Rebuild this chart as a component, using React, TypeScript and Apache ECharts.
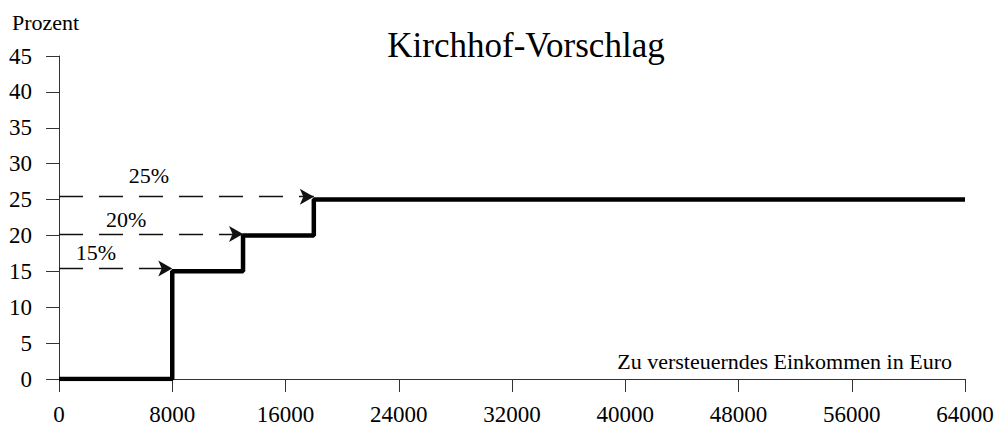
import React, { useEffect, useRef } from "react";
import * as echarts from "echarts";

// Step thresholds (Euro) and tax rates (%)
const incomeBreaks = [0, 8000, 13000, 18000, 64000];
const taxRates = [0, 15, 20, 25, 25];

// Dashed arrow guides: level (%) as drawn and the income where the arrow ends
const arrowLevels = [15.4, 20.2, 25.4];
const arrowEnds = [8000, 13000, 18000];

// Percent labels: text, position (income, %)
const rateLabels = ["15%", "20%", "25%"];
const rateLabelX = [2600, 4750, 6350];
const rateLabelY = [17.6, 22.2, 28.3];

const xTicks = { min: 0, max: 64000, interval: 8000 };
const yTicks = { min: 0, max: 45, interval: 5 };

const titleText = "Kirchhof-Vorschlag";
const yAxisName = "Prozent";
const xAxisName = "Zu versteuerndes Einkommen in Euro";

const FONT = "'Liberation Serif', 'Times New Roman', Times, serif";

export default function App() {
  const ref = useRef<HTMLDivElement>(null);

  useEffect(() => {
    if (!ref.current) return;
    const chart = echarts.init(ref.current, undefined, { renderer: "svg" });

    const stepData = incomeBreaks.map((x, i) => [x, taxRates[i]]);
    const markLines = arrowLevels.map((lv, i) => [
      { coord: [0, lv] },
      { coord: [arrowEnds[i], lv] },
    ]);
    const labelData = rateLabels.map((t, i) => [rateLabelX[i], rateLabelY[i], t]);

    chart.setOption({
      animation: false,
      backgroundColor: "#fff",
      textStyle: { fontFamily: FONT },
      grid: { left: 59, right: 35, top: 56, bottom: 46, containLabel: false },
      xAxis: {
        type: "value",
        min: xTicks.min,
        max: xTicks.max,
        interval: xTicks.interval,
        splitLine: { show: false },
        axisLine: { show: true, lineStyle: { color: "#333", width: 1 } },
        axisTick: { show: true, inside: false, length: 13, lineStyle: { color: "#333", width: 1 } },
        axisLabel: {
          color: "#000",
          fontFamily: FONT,
          fontSize: 23,
          margin: 24,
          formatter: (v: number) => String(v),
        },
      },
      yAxis: {
        type: "value",
        min: yTicks.min,
        max: yTicks.max,
        interval: yTicks.interval,
        splitLine: { show: false },
        axisLine: { show: true, lineStyle: { color: "#333", width: 1 } },
        axisTick: { show: true, inside: false, length: 13, lineStyle: { color: "#333", width: 1 } },
        axisLabel: {
          color: "#000",
          fontFamily: FONT,
          fontSize: 23,
          margin: 27,
          formatter: (v: number) => String(v),
        },
      },
      graphic: [
        {
          type: "text",
          x: 526,
          y: 45,
          style: {
            text: titleText,
            fontFamily: FONT,
            fontSize: 35,
            fill: "#000",
            textAlign: "center",
            textVerticalAlign: "middle",
          },
        },
        {
          type: "text",
          x: 12,
          y: 22,
          style: {
            text: yAxisName,
            fontFamily: FONT,
            fontSize: 22,
            fill: "#000",
            textAlign: "left",
            textVerticalAlign: "middle",
          },
        },
        {
          type: "text",
          x: 952,
          y: 361,
          style: {
            text: xAxisName,
            fontFamily: FONT,
            fontSize: 22,
            fill: "#000",
            textAlign: "right",
            textVerticalAlign: "middle",
          },
        },
      ],
      series: [
        {
          type: "line",
          step: "end",
          data: stepData,
          showSymbol: false,
          symbol: "none",
          lineStyle: { color: "#000", width: 4.5 },
          silent: true,
          z: 3,
          markLine: {
            silent: true,
            symbol: ["none", "arrow"],
            symbolSize: [12, 14],
            label: { show: false },
            lineStyle: { color: "#111", width: 1.3, type: [24, 16] },
            emphasis: { disabled: true },
            data: markLines,
          },
        },
        {
          type: "scatter",
          data: labelData,
          symbolSize: 0,
          silent: true,
          itemStyle: { opacity: 1 },
          label: {
            show: true,
            position: "inside",
            formatter: (p: any) => p.data[2],
            color: "#000",
            opacity: 1,
            fontFamily: FONT,
            fontSize: 22,
          },
        },
      ],
    });

    return () => chart.dispose();
  }, []);

  return <div ref={ref} style={{ width: 1000, height: 426, position: "absolute", left: 0, top: 0 }} />;
}
